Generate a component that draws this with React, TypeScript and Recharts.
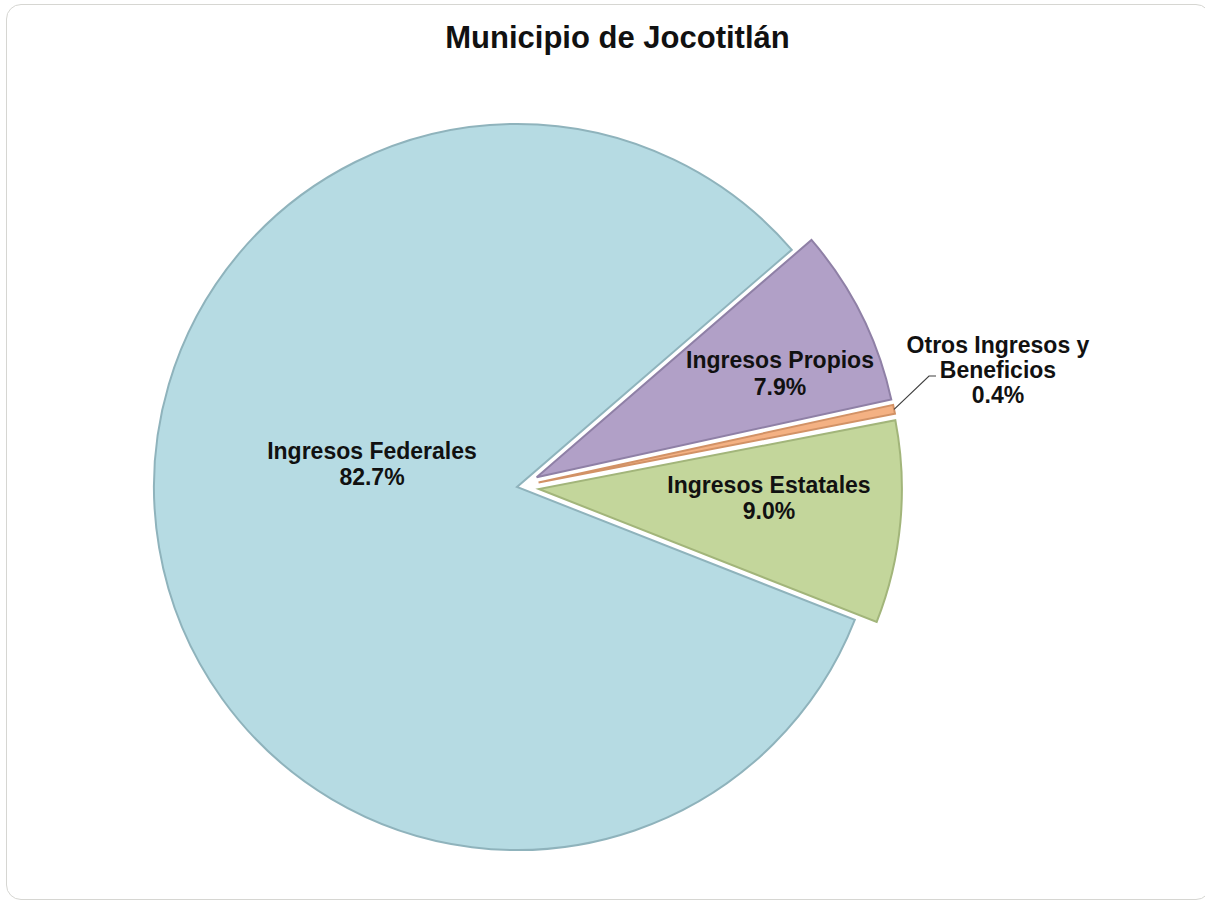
import React from 'react';
import { PieChart, Pie, Cell } from 'recharts';

// ---- data ----
const categories = ['Ingresos Federales', 'Ingresos Estatales', 'Otros Ingresos y Beneficios', 'Ingresos Propios'];
const shares = [82.7, 9.0, 0.4, 7.9];
const labelLines = [['Ingresos Federales'], ['Ingresos Estatales'], ['Otros Ingresos y', 'Beneficios'], ['Ingresos Propios']];
const title = 'Municipio de Jocotitlán';

// ---- styling / layout ----
const COLORS = ['#b6dbe3', '#c3d69b', '#f4b183', '#b1a0c7'];
const STROKES = ['#8fb3bc', '#a2b57a', '#d29266', '#8f80a6'];
const EXPLODED = [false, true, true, true];
const LABEL_POS = [
  [372, 459],
  [769, 493],
  [998, 353],
  [780, 368],
];
const LINE_H = [26, 26, 25, 27];

const CX = 517;
const CY = 487;
const R = 363;
const START = 40.8;
const EXPLODE = 22;
const RAD = Math.PI / 180;

const data = categories.map((name, i) => ({ name, value: shares[i] }));
const total = shares.reduce((a, b) => a + b, 0);
const mids: number[] = [];
{
  let acc = 0;
  shares.forEach((v) => {
    const a0 = START + (acc / total) * 360;
    acc += v;
    const a1 = START + (acc / total) * 360;
    mids.push((a0 + a1) / 2);
  });
}

const makeLabel = (idx: number) => (props: any) => {
  if (props.index !== idx) return <g />;
  const [x, y] = LABEL_POS[idx];
  const lines = [...labelLines[idx], `${Number(props.value).toFixed(1)}%`];
  let leader = null;
  if (idx === 2) {
    const px = props.cx + props.outerRadius * Math.cos(-props.midAngle * RAD);
    const py = props.cy + props.outerRadius * Math.sin(-props.midAngle * RAD);
    leader = (
      <polyline
        points={`${px},${py} 929,376 936,376`}
        fill="none"
        stroke="#404040"
        strokeWidth={1.2}
      />
    );
  }
  return (
    <g>
      {leader}
      <text
        x={x}
        y={y}
        textAnchor="middle"
        fontFamily='"Liberation Sans", Arial, sans-serif'
        fontWeight="bold"
        fontSize={23}
        fill="#111"
      >
        {lines.map((l, k) => (
          <tspan key={k} x={x} dy={k === 0 ? 0 : LINE_H[idx]}>
            {l}
          </tspan>
        ))}
      </text>
    </g>
  );
};

export default function App() {
  return (
    <div
      style={{
        position: 'absolute',
        left: 0,
        top: 0,
        width: 1205,
        height: 904,
        background: '#fff',
        overflow: 'hidden',
        fontFamily: '"Liberation Sans", Arial, sans-serif',
      }}
    >
      <div
        style={{
          position: 'absolute',
          left: 6,
          top: 4,
          width: 1205,
          height: 896,
          border: '1px solid #d6d6d2',
          borderRadius: 15,
          boxSizing: 'border-box',
        }}
      />
      <div
        style={{
          position: 'absolute',
          left: 0,
          top: 22,
          width: 1235,
          textAlign: 'center',
          fontSize: 31,
          lineHeight: '31px',
          fontWeight: 'bold',
          color: '#111',
        }}
      >
        {title}
      </div>
      <div style={{ position: 'absolute', left: 0, top: 0 }}>
        <PieChart width={1205} height={904} margin={{ top: 0, right: 0, bottom: 0, left: 0 }}>
          {data.map((_, pi) => {
            const off = EXPLODED[pi] ? EXPLODE : 0;
            const cx = CX + off * Math.cos(mids[pi] * RAD);
            const cy = CY - off * Math.sin(mids[pi] * RAD);
            return (
              <Pie
                key={pi}
                data={data}
                dataKey="value"
                nameKey="name"
                cx={cx}
                cy={cy}
                innerRadius={0}
                outerRadius={R}
                startAngle={START}
                endAngle={START + 360}
                isAnimationActive={false}
                label={makeLabel(pi)}
                labelLine={false}
              >
                {data.map((d, ci) => (
                  <Cell
                    key={ci}
                    fill={ci === pi ? COLORS[ci] : 'transparent'}
                    stroke={ci === pi ? STROKES[ci] : 'none'}
                    strokeWidth={ci === pi ? 2 : 0}
                  />
                ))}
              </Pie>
            );
          })}
        </PieChart>
      </div>
    </div>
  );
}
